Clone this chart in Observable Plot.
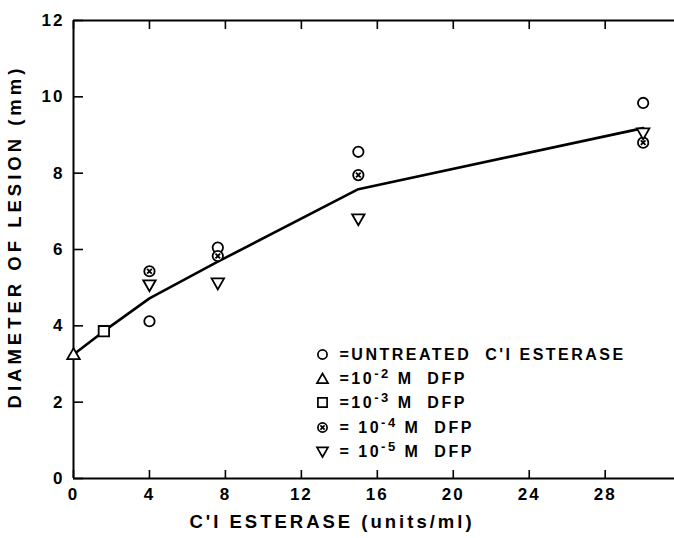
<!DOCTYPE html>
<html><head><meta charset="utf-8">
<script src="https://cdn.jsdelivr.net/npm/d3@7"></script>
<script src="https://cdn.jsdelivr.net/npm/@observablehq/plot@0.6"></script>
<style>
body{margin:0;background:#fff}
#chart svg text{letter-spacing:2px}
</style>
</head><body><div id="chart"></div>
<script>
// ---- data ----
const xTicks = [0, 4, 8, 12, 16, 20, 24, 28];
const yTicks = [0, 2, 4, 6, 8, 10, 12];
const xLabel = "C'I ESTERASE (units/ml)";
const yLabel = "DIAMETER OF LESION (mm)";

const fitX = [0, 1.6, 4, 7.6, 15, 30];
const fitY = [3.25, 3.86, 4.72, 5.68, 7.58, 9.18];

const untreatedX = [4, 7.6, 15, 30];
const untreatedY = [4.12, 6.05, 8.56, 9.84];
const dfp2X = [0];
const dfp2Y = [3.25];
const dfp3X = [1.6];
const dfp3Y = [3.86];
const dfp4X = [4, 7.6, 15, 30];
const dfp4Y = [5.43, 5.83, 7.95, 8.8];
const dfp5X = [4, 7.6, 15, 30];
const dfp5Y = [5.07, 5.12, 6.8, 9.05];

const legendLabels = ["=UNTREATED  C'I ESTERASE", "=10^-2 M  DFP", "=10^-3 M  DFP", "= 10^-4 M  DFP", "= 10^-5 M  DFP"];

// ---- symbols ----
const R = s => Math.sqrt(s / Math.PI);
const symCircle = {draw(c, s){ const r = R(s); c.moveTo(r, 0); c.arc(0, 0, r, 0, 2 * Math.PI); }};
const symTriUp = {draw(c, s){ const r = R(s) * 1.2; c.moveTo(0, -r); c.lineTo(r * 1.0, r * 0.75); c.lineTo(-r * 1.0, r * 0.75); c.closePath(); }};
const symSquare = {draw(c, s){ const r = R(s); c.rect(-r, -r, 2 * r, 2 * r); }};
const symOtimes = {draw(c, s){ const r = R(s); c.moveTo(r, 0); c.arc(0, 0, r, 0, 2 * Math.PI);
  const k = r * 0.45; c.moveTo(-k, -k); c.lineTo(k, k); c.moveTo(k, -k); c.lineTo(-k, k); }};
const symTriDown = {draw(c, s){ const r = R(s) * 1.2; c.moveTo(0, r); c.lineTo(r * 1.0, -r * 0.75); c.lineTo(-r * 1.0, -r * 0.75); c.closePath(); }};

const series = [
  {x: untreatedX, y: untreatedY, sym: symCircle},
  {x: dfp2X, y: dfp2Y, sym: symTriUp},
  {x: dfp3X, y: dfp3Y, sym: symSquare},
  {x: dfp4X, y: dfp4Y, sym: symOtimes},
  {x: dfp5X, y: dfp5Y, sym: symTriDown}
];
const pts = (xs, ys) => xs.map((x, i) => ({x, y: ys[i]}));

const font = "Liberation Sans, Arial, sans-serif";
const legendDy = [334, 358.5, 382, 407, 431];

const marks = [
  Plot.ruleY([0, 12], {stroke: "black", strokeWidth: 2}),
  Plot.ruleX([0], {stroke: "black", strokeWidth: 2}),
  Plot.axisY({ticks: yTicks, anchor: "left", tickSize: -10, tickPadding: 19, fontSize: 17, fontWeight: "bold", label: null, strokeWidth: 1.6}),
  Plot.axisX({ticks: xTicks, anchor: "bottom", tickSize: -8, tickPadding: 17, fontSize: 17, fontWeight: "bold", label: null, strokeWidth: 1.6}),
  Plot.axisX({ticks: xTicks, anchor: "top", tickSize: -8, tickFormat: () => "", label: null, strokeWidth: 1.6}),
  Plot.line(pts(fitX, fitY), {x: "x", y: "y", stroke: "black", strokeWidth: 2.6}),
  ...series.map(s => Plot.dot(pts(s.x, s.y), {x: "x", y: "y", symbol: s.sym, r: 5.2, stroke: "black", strokeWidth: 1.8, fill: "white"})),
  ...series.map((s, i) => Plot.dot([i], {frameAnchor: "top-left", dx: 249, dy: legendDy[i], symbol: s.sym, r: 4.6, stroke: "black", strokeWidth: 1.7})),
  ...legendLabels.map((t, i) => Plot.text([t], {frameAnchor: "top-left", dx: 266, dy: legendDy[i], text: d => d, textAnchor: "start", lineAnchor: "middle", fontSize: 16, fontWeight: "bold"})),
  Plot.text([xLabel], {frameAnchor: "bottom", dx: -42, dy: 44, text: d => d, textAnchor: "middle", lineAnchor: "middle", fontSize: 18.5, fontWeight: "bold"}),
  Plot.text([yLabel], {frameAnchor: "left", dx: -58, dy: -13, rotate: -90, text: d => d, textAnchor: "middle", lineAnchor: "middle", fontSize: 18.5, fontWeight: "bold"})
];

const chart = Plot.plot({
  width: 674,
  height: 538,
  marginLeft: 73,
  marginRight: 0,
  marginTop: 20,
  marginBottom: 60,
  style: {fontFamily: font, background: "white", color: "black"},
  x: {domain: [0, 31.65], label: null, axis: null},
  y: {domain: [0, 12], label: null, axis: null},
  marks
});

d3.select(chart).selectAll("text").each(function() {
  const t = this.textContent;
  const sel = d3.select(this);
  if (t === xLabel) sel.style("letter-spacing", "3px");
  if (t === yLabel) sel.style("letter-spacing", "4px");
  if (legendLabels.includes(t)) sel.style("letter-spacing", "2.5px");
  if (!t.includes("^")) return;
  const m = t.match(/^(.*?)\^(\S+)(.*)$/);
  sel.text(null);
  sel.append("tspan").text(m[1]);
  sel.append("tspan").attr("dy", -6).attr("font-size", 13).text(m[2]);
  sel.append("tspan").attr("dy", 6).text(m[3]);
});

document.getElementById("chart").appendChild(chart);
</script>
</body></html>
